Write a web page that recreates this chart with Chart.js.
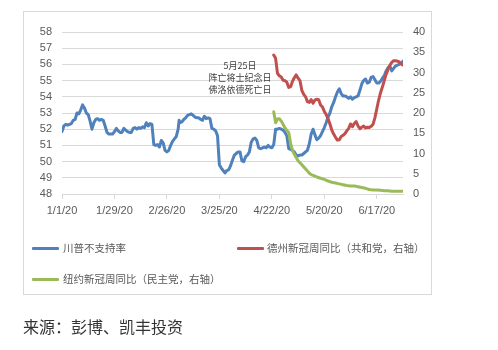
<!DOCTYPE html>
<html>
<head>
<meta charset="utf-8">
<script src="https://cdn.jsdelivr.net/npm/chart.js@4"></script>
<style>
  html, body { margin: 0; padding: 0; background: #ffffff; }
  #wrap { position: relative; width: 498px; height: 350px; overflow: hidden; }
  #frame { position: absolute; left: 23px; top: 11px; width: 409px; height: 284px;
           border: 1px solid #d9d9d9; box-sizing: border-box; }
  canvas { position: absolute; left: 0; top: 0; }
  .cjk { font-family: "Noto Sans CJK SC", sans-serif; }
  .lg-line { position: absolute; height: 3px; width: 27px; border-radius: 1px; }
  .lg-text { position: absolute; font-size: 10.5px; color: #595959; line-height: 14px; white-space: nowrap; }
  #note { position: absolute; left: 180px; top: 60px; width: 120px; text-align: center;
          font-size: 9px; line-height: 12px; color: #404040; }
  #source { position: absolute; left: 23px; top: 315px; font-size: 16px; color: #333333;
            line-height: 22px; white-space: nowrap; }
</style>
</head>
<body>
<div id="wrap">
  <div id="frame"></div>
  <canvas id="chart" width="498" height="350"></canvas>
  <div id="note" class="cjk">5月25日<br>阵亡将士纪念日<br>佛洛依德死亡日</div>
  <div class="lg-line" style="left:32px;top:247px;background:#4F81BD"></div>
  <div class="lg-text cjk" style="left:63px;top:241px">川普不支持率</div>
  <div class="lg-line" style="left:237px;top:247px;background:#C0504D"></div>
  <div class="lg-text cjk" style="left:267px;top:241px">德州新冠周同比（共和党，右轴）</div>
  <div class="lg-line" style="left:32px;top:278px;background:#9BBB59"></div>
  <div class="lg-text cjk" style="left:63px;top:272px">纽约新冠周同比（民主党，右轴）</div>
  <div id="source" class="cjk">来源：彭博、凯丰投资</div>
</div>
<script>
// x positions are days since 1 Jan 2020 (0 = 1/1/20, 182 = 7/1/20)
const tickDays = [0, 28, 56, 84, 112, 140, 168];
const tickLabels = ['1/1/20', '1/29/20', '2/26/20', '3/25/20', '4/22/20', '5/20/20', '6/17/20'];

// Trump disapproval (left axis, %)
const trumpDays = [0,1,2,3,5,6,7,8,9,10,11,12,13,14,15,16,17,18,19,20,21,22,23,24,25,27,28,29,30,31,32,33,34,35,36,37,38,39,40,41,42,43,44,45,46,47,48,
  49,50,51,52,53,54,55,56,57,58,59,60,61,62,62.5,63,64,65,66,67,68,69,70,71,72,73,74,75,76,77,78,79,80,81,82,83,84,85,86,87,88,89,90,91,92,93,94,95,96,97,98,99,100,
  101,102,103,104,105,106,107,108,109,110,111,112,113,114,115,116,117,118,119,120,121,122,123,124,125,126,127,128,129,130,131,132,133,134,135,136,137,138,139,140,
  141,142,143,144,145,146,147,148,149,150,151,152,153,154,155,156,157,158,159,160,161,162,163,164,165,166,167,168,169,170,171,172,173,174,175,176,177,178,179,180,181,182];
const trumpValues = [51.85,52.2,52.3,52.25,52.35,52.55,52.6,53.0,52.95,53.2,53.5,53.3,53.0,52.9,52.5,52.0,52.4,52.6,52.65,52.55,52.6,52.55,52.2,51.8,51.7,51.7,51.85,52.05,51.9,51.8,51.8,52.05,51.95,51.85,51.8,51.8,52.05,52.1,52.0,52.1,52.05,52.15,52.1,52.4,52.2,52.35,52.3,
  51.05,51.0,51.05,50.9,51.3,51.15,50.7,50.6,50.7,51.0,51.25,51.4,51.55,52.0,52.55,52.4,52.45,52.6,52.7,52.85,52.9,52.95,52.85,52.75,52.7,52.7,52.6,52.55,52.8,52.65,52.7,52.65,52.05,52.0,51.9,51.6,49.8,49.6,49.45,49.3,49.45,49.5,49.75,50.1,50.4,50.5,50.6,50.6,50.05,50.0,50.3,50.4,50.6,
  51.2,51.4,51.45,51.3,50.85,50.8,50.85,50.9,50.85,51.0,50.9,50.85,51.05,52.0,52.0,52.05,52.0,51.95,51.8,51.6,50.8,50.75,50.7,50.6,50.4,50.35,50.4,50.4,50.5,50.6,50.7,51.1,51.7,52.0,51.65,51.35,51.45,51.6,51.85,52.1,
  52.4,52.75,53.0,53.4,53.65,54.0,54.3,54.5,54.2,54.05,54.05,54.0,53.9,54.0,53.85,53.95,54.0,54.05,54.4,54.8,55.0,55.1,54.85,54.9,55.2,55.25,55.05,54.85,54.85,54.95,55.15,55.3,55.6,55.8,55.9,55.6,55.75,55.9,55.95,56.0,56.05,56.2];

// Texas new cases, week-over-week (right axis)
const texasDays = [113,114,115,116,117,118,119,120,121,122,123,124,125,126,127,128,129,130,131,132,133,134,135,136,137,138,139,140,141,142,143,144,145,146,147,148,
  149,150,151,152,153,154,155,156,157,158,159,160,161,162,163,164,165,166,167,168,169,170,171,172,173,174,175,176,177,178,179,180,181,182];
const texasValues = [34.3,33.5,29.8,29.2,28.9,28.1,28.0,27.6,26.3,26.5,27.8,28.7,29.4,28.6,28.0,25.6,24.6,24.0,22.8,22.6,23.3,22.4,23.2,23.4,23.3,22.0,21.5,20.4,19.6,18.6,17.3,15.8,14.8,14.0,13.3,13.4,
  14.2,14.5,14.9,15.6,16.2,17.3,16.6,17.4,17.9,16.8,16.1,16.5,16.8,16.3,16.5,16.4,16.7,17.2,18.8,21.0,23.2,25.0,26.4,28.0,29.6,30.7,31.8,32.5,32.9,32.9,32.8,32.6,32.2,31.8];

// New York new cases, week-over-week (right axis)
const nyDays = [113,114,115,116,117,118,119,120,121,122,123,124,125,126,127,128,129,130,131,132,133,134,135,136,138,140,142,144,146,148,150,152,154,156,158,160,162,164,166,168,170,172,174,176,178,180,182];
const nyValues = [20.3,17.6,18.5,18.6,18.0,17.2,16.3,15.7,15.2,12.5,10.8,9.8,9.0,8.2,7.7,7.2,6.7,6.2,5.7,5.1,4.8,4.6,4.4,4.2,3.9,3.6,3.2,2.9,2.7,2.5,2.3,2.1,2.0,2.0,1.8,1.6,1.4,1.1,1.0,1.0,0.9,0.8,0.8,0.7,0.7,0.7,0.7];

const toPoints = (days, values) => days.map((d, i) => ({ x: d, y: values[i] }));

const tickFont = { family: "'Liberation Sans', Arial, sans-serif", size: 11 };
const lineStyle = { borderWidth: 3, pointRadius: 0, pointHoverRadius: 0, tension: 0,
                    borderJoinStyle: 'round', borderCapStyle: 'round', fill: false };

new Chart(document.getElementById('chart'), {
  type: 'line',
  data: {
    datasets: [
      Object.assign({ label: '川普不支持率', data: toPoints(trumpDays, trumpValues),
        borderColor: '#4F81BD', yAxisID: 'y', order: 3 }, lineStyle),
      Object.assign({ label: '德州新冠周同比（共和党，右轴）', data: toPoints(texasDays, texasValues),
        borderColor: '#C0504D', yAxisID: 'y1', order: 2 }, lineStyle),
      Object.assign({ label: '纽约新冠周同比（民主党，右轴）', data: toPoints(nyDays, nyValues),
        borderColor: '#9BBB59', yAxisID: 'y1', order: 1 }, lineStyle)
    ]
  },
  options: {
    responsive: false,
    animation: false,
    devicePixelRatio: 1,
    layout: { padding: { left: 23, right: 66, top: 32, bottom: 130 } },
    plugins: { legend: { display: false }, tooltip: { enabled: false } },
    scales: {
      x: {
        type: 'linear', min: 0, max: 182,
        afterBuildTicks: s => { s.ticks = tickDays.map(v => ({ value: v })); },
        afterFit: s => { s.height = 26; },
        ticks: { autoSkip: false, maxRotation: 0, padding: 5, color: '#595959', font: tickFont,
                 callback: (v, i) => tickLabels[i] },
        grid: { drawOnChartArea: false, drawTicks: true, tickLength: 5, color: '#d9d9d9' },
        border: { display: true, color: '#d9d9d9' }
      },
      y: {
        position: 'left', min: 48, max: 58,
        afterFit: s => { s.width = 39; },
        ticks: { stepSize: 1, padding: 10, color: '#595959', font: tickFont },
        grid: { color: '#d9d9d9', drawTicks: false },
        border: { display: false }
      },
      y1: {
        position: 'right', min: 0, max: 40,
        afterFit: s => { s.width = 29; },
        ticks: { stepSize: 5, padding: 10, color: '#595959', font: tickFont },
        grid: { display: false, drawTicks: false },
        border: { display: false }
      }
    }
  }
});
</script>
</body>
</html>
